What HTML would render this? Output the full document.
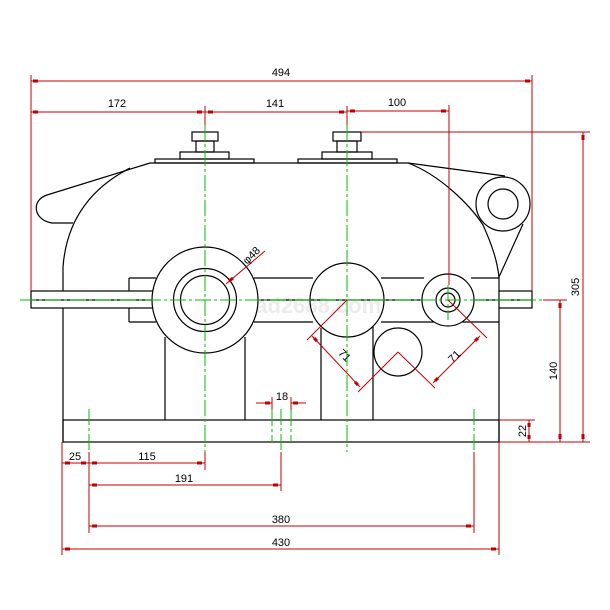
<!DOCTYPE html>
<html><head><meta charset="utf-8"><style>
html,body{margin:0;padding:0;background:#fff}
svg{display:block}
text{font-family:"Liberation Sans",sans-serif;font-size:11px;fill:#000}
</style></head><body>
<svg width="610" height="610" viewBox="0 0 610 610" xmlns="http://www.w3.org/2000/svg">
<rect width="610" height="610" fill="#fff"/>
<text x="243" y="313" style="font-size:22px;font-weight:bold;fill:#ececec">cad2688.com</text>
<!-- black geometry -->
<g stroke="#000" stroke-width="1.2" fill="none">
<rect x="192" y="132" width="26" height="9"/>
<rect x="196" y="141" width="18" height="11"/>
<rect x="180" y="152" width="49" height="7"/>
<rect x="155" y="159" width="99" height="4"/>
<rect x="333" y="132" width="28" height="9"/>
<rect x="337" y="141" width="20" height="11"/>
<rect x="322" y="152" width="50" height="7"/>
<rect x="298" y="159" width="99" height="4"/>
<line x1="150" y1="163" x2="408" y2="163"/>
<path d="M150 163 L47 195 C31 200 33 220 52 223 L73 223"/>
<path d="M130 168 Q68 200 63 267"/>
<line x1="63" y1="267" x2="63" y2="291"/>
<line x1="63" y1="308" x2="63" y2="442"/>
<path d="M408 163 L505 176"/>
<path d="M408 163 C440 175 470 205 483 225 C492 245 497 260 499 277"/>
<line x1="523" y1="224" x2="499" y2="277"/>
<circle cx="503" cy="204" r="27"/>
<circle cx="503" cy="204" r="15"/>
<rect x="31" y="291" width="122" height="17"/>
<rect x="499" y="291" width="33" height="17"/>
<line x1="31" y1="300" x2="532" y2="300"/>
<line x1="129" y1="278" x2="156" y2="278"/>
<line x1="129" y1="322" x2="156" y2="322"/>
<line x1="129" y1="278" x2="129" y2="291"/>
<line x1="129" y1="308" x2="129" y2="322"/>
<line x1="254" y1="278" x2="313" y2="278"/>
<line x1="254" y1="322" x2="313" y2="322"/>
<line x1="381" y1="278" x2="424" y2="278"/>
<line x1="381" y1="322" x2="499" y2="322"/>
<line x1="471" y1="278" x2="499" y2="278"/>
<line x1="499" y1="277" x2="499" y2="291"/>
<line x1="499" y1="308" x2="499" y2="442"/>
<circle cx="205" cy="300" r="53" fill="#fff"/>
<circle cx="205" cy="300" r="31.5"/>
<circle cx="205" cy="300" r="24.5"/>
<circle cx="347" cy="300" r="37" fill="none"/>
<circle cx="448" cy="300" r="26" fill="#fff"/>
<circle cx="448" cy="300" r="12"/>
<circle cx="448" cy="300" r="7"/>
<circle cx="398" cy="352" r="24"/>
<line x1="165" y1="337" x2="165" y2="420"/>
<line x1="245" y1="337" x2="245" y2="420"/>
<line x1="321" y1="328" x2="321" y2="420"/>
<line x1="373" y1="327" x2="373" y2="420"/>
<rect x="63" y="420" width="436" height="22"/>
</g>
<!-- green center lines -->
<g stroke="#00c000" stroke-width="1" fill="none" stroke-dasharray="16,3,3,3">
<line x1="20" y1="300" x2="545" y2="300"/>
<line x1="205" y1="125" x2="205" y2="452"/>
<line x1="347" y1="125" x2="347" y2="452"/>
<line x1="448" y1="285" x2="448" y2="320"/>
<line x1="89" y1="409" x2="89" y2="452"/>
<line x1="474" y1="409" x2="474" y2="452"/>
<line x1="272" y1="410" x2="272" y2="442"/>
<line x1="281" y1="409" x2="281" y2="452"/>
<line x1="291" y1="410" x2="291" y2="442"/>
</g>
<!-- red dimensions -->
<g stroke="#c00000" stroke-width="1" fill="none">
<line x1="31" y1="75" x2="31" y2="291"/>
<line x1="532" y1="75" x2="532" y2="291"/>
<line x1="205" y1="106" x2="205" y2="125"/>
<line x1="347" y1="106" x2="347" y2="125"/>
<line x1="449" y1="105" x2="449" y2="285"/>
<line x1="31" y1="81" x2="532" y2="81"/>
<line x1="31" y1="112" x2="347" y2="112"/>
<line x1="347" y1="111" x2="449" y2="111"/>
<line x1="361" y1="132" x2="590" y2="132"/>
<line x1="499" y1="442" x2="590" y2="442"/>
<line x1="583" y1="132" x2="583" y2="442"/>
<line x1="543" y1="300" x2="567" y2="300"/>
<line x1="560" y1="300" x2="560" y2="442"/>
<line x1="499" y1="420" x2="535" y2="420"/>
<line x1="529" y1="420" x2="529" y2="442"/>
<line x1="256" y1="403" x2="272" y2="403"/>
<line x1="291" y1="403" x2="306" y2="403"/>
<line x1="272" y1="397" x2="272" y2="410"/>
<line x1="291" y1="397" x2="291" y2="410"/>
<line x1="89" y1="452" x2="89" y2="533"/>
<line x1="205" y1="452" x2="205" y2="470"/>
<line x1="281" y1="452" x2="281" y2="491"/>
<line x1="474" y1="452" x2="474" y2="533"/>
<line x1="62" y1="442" x2="62" y2="555"/>
<line x1="499" y1="442" x2="499" y2="555"/>
<line x1="62" y1="463" x2="205" y2="463"/>
<line x1="89" y1="485" x2="281" y2="485"/>
<line x1="89" y1="526" x2="474" y2="526"/>
<line x1="62" y1="549" x2="499" y2="549"/>
<line x1="265" y1="251" x2="226" y2="284"/>
<line x1="347" y1="300" x2="307" y2="340"/>
<line x1="398" y1="352" x2="358" y2="392"/>
<line x1="312" y1="336" x2="360" y2="387"/>
<line x1="448" y1="300" x2="487" y2="338"/>
<line x1="398" y1="352" x2="435" y2="388"/>
<line x1="480" y1="336" x2="433" y2="383"/>
</g>
<!-- arrow ticks -->
<g stroke="#c00000" stroke-width="3" fill="none">
<line x1="33" y1="81" x2="38" y2="81"/><line x1="525" y1="81" x2="530" y2="81"/>
<line x1="33" y1="112" x2="38" y2="112"/><line x1="197" y1="112" x2="202" y2="112"/>
<line x1="208" y1="112" x2="213" y2="112"/><line x1="339" y1="112" x2="344" y2="112"/>
<line x1="350" y1="111" x2="355" y2="111"/><line x1="441" y1="111" x2="446" y2="111"/>
<line x1="583" y1="135" x2="583" y2="140"/><line x1="583" y1="434" x2="583" y2="439"/>
<line x1="560" y1="303" x2="560" y2="308"/><line x1="560" y1="434" x2="560" y2="439"/>
<line x1="529" y1="423" x2="529" y2="427"/><line x1="529" y1="435" x2="529" y2="439"/>
<line x1="265" y1="403" x2="270" y2="403"/><line x1="293" y1="403" x2="298" y2="403"/>
<line x1="65" y1="463" x2="70" y2="463"/><line x1="81" y1="463" x2="86" y2="463"/>
<line x1="92" y1="463" x2="97" y2="463"/><line x1="197" y1="463" x2="202" y2="463"/>
<line x1="92" y1="485" x2="97" y2="485"/><line x1="273" y1="485" x2="278" y2="485"/>
<line x1="92" y1="526" x2="97" y2="526"/><line x1="466" y1="526" x2="471" y2="526"/>
<line x1="65" y1="549" x2="70" y2="549"/><line x1="491" y1="549" x2="496" y2="549"/>
<line x1="229" y1="281" x2="233" y2="278"/>
<line x1="314" y1="338" x2="317" y2="341"/><line x1="355" y1="382" x2="358" y2="385"/>
<line x1="478" y1="338" x2="475" y2="341"/><line x1="435" y1="381" x2="438" y2="378"/>
</g>
<!-- labels -->
<g text-anchor="middle">
<text x="281" y="76">494</text>
<text x="117" y="107">172</text>
<text x="275" y="107">141</text>
<text x="397" y="106">100</text>
<text x="282" y="400">18</text>
<text x="75" y="460">25</text>
<text x="147" y="460">115</text>
<text x="184" y="482">191</text>
<text x="281" y="523">380</text>
<text x="281" y="546">430</text>
<text transform="translate(579,287) rotate(-90)">305</text>
<text transform="translate(557,371) rotate(-90)">140</text>
<text transform="translate(526,431) rotate(-90)">22</text>
<text transform="translate(254,258) rotate(-45)">φ48</text>
<text transform="translate(342,358) rotate(45)">71</text>
<text transform="translate(457,359) rotate(-45)">71</text>
</g>
</svg>
</body></html>
